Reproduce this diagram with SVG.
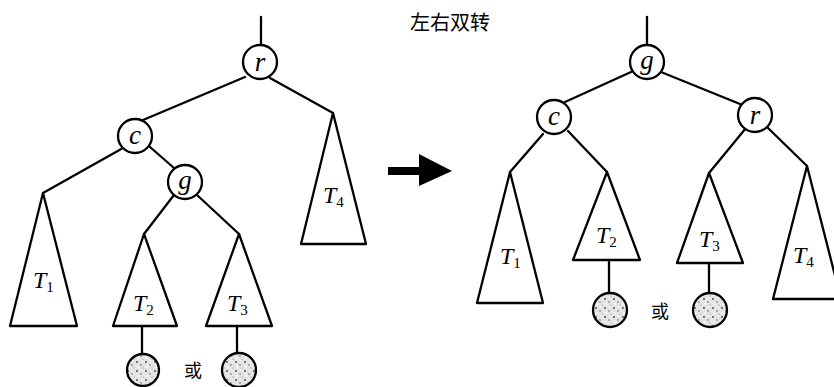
<svg xmlns="http://www.w3.org/2000/svg" width="834" height="387" viewBox="0 0 834 387">
<style>
.ln{stroke:#000;stroke-width:2.3;fill:none;stroke-linecap:round;stroke-linejoin:round}
.tri{stroke:#000;stroke-width:2.3;fill:#fff;stroke-linejoin:round}
.nd{stroke:#000;stroke-width:2.3;fill:#fff}
.lf{stroke:#000;stroke-width:2.3;fill:url(#stip)}
.nl{font-family:"Liberation Serif",serif;font-style:italic;font-size:27px;text-anchor:middle}
.tl{font-family:"Liberation Serif",serif;font-style:italic;font-size:24px}
.sub{font-style:normal;font-size:15px}
.cj{font-family:"Noto Sans CJK SC",sans-serif;font-size:18px}
.ti{font-family:"Noto Sans CJK SC",sans-serif;font-size:20px}
</style>
<defs>
<pattern id="stip" patternUnits="userSpaceOnUse" width="9" height="9">
<rect width="9" height="9" fill="#e4e4e4"/>
<circle cx="2" cy="2" r="0.9" fill="#444"/>
<circle cx="6" cy="5" r="0.8" fill="#666"/>
<circle cx="3" cy="7" r="0.9" fill="#fff"/>
<circle cx="7" cy="1" r="0.8" fill="#fff"/>
<circle cx="8" cy="8" r="0.6" fill="#888"/>
</pattern>
</defs>
<rect width="834" height="387" fill="#fff"/>
<text class="ti" x="410" y="30">左右双转</text>
<g id="connectors">
<line class="ln" x1="261" y1="17" x2="261" y2="45"/>
<line class="ln" x1="245" y1="77" x2="143" y2="120"/>
<line class="ln" x1="270" y1="78" x2="333" y2="113"/>
<line class="ln" x1="123" y1="148" x2="43" y2="193"/>
<line class="ln" x1="150" y1="147" x2="174" y2="168"/>
<line class="ln" x1="174" y1="195" x2="144" y2="234"/>
<line class="ln" x1="197" y1="195" x2="239" y2="234"/>
<line class="ln" x1="142" y1="326" x2="142" y2="354"/>
<line class="ln" x1="237" y1="326" x2="237" y2="353"/>
<line class="ln" x1="647" y1="17" x2="647" y2="45"/>
<line class="ln" x1="631" y1="72" x2="565" y2="102"/>
<line class="ln" x1="661" y1="72" x2="740" y2="104"/>
<line class="ln" x1="543" y1="134" x2="510" y2="172"/>
<line class="ln" x1="568" y1="131" x2="607" y2="172"/>
<line class="ln" x1="746" y1="128" x2="709" y2="173"/>
<line class="ln" x1="767" y1="127" x2="807" y2="166"/>
<line class="ln" x1="609" y1="260" x2="609" y2="293"/>
<line class="ln" x1="709" y1="263" x2="709" y2="293"/>
</g>
<g id="arrow">
<rect x="388" y="167" width="33" height="8" fill="#000"/>
<polygon points="419,154 452,171 419,186" fill="#000"/>
</g>
<g id="L_r"><circle class="nd" cx="260" cy="62" r="17"/><text class="nl" x="260" y="71">r</text></g>
<g id="L_c"><circle class="nd" cx="135" cy="136" r="17"/><text class="nl" x="135" y="144">c</text></g>
<g id="L_g"><circle class="nd" cx="185" cy="182" r="17"/><text class="nl" x="185" y="189">g</text></g>
<g id="L_T1"><polygon class="tri" points="43,193 10,326 77,326"/><text class="tl" x="33" y="288">T<tspan class="sub" dy="4">1</tspan></text></g>
<g id="L_T2"><polygon class="tri" points="144,234 113,326 177,326"/><text class="tl" x="133" y="311">T<tspan class="sub" dy="4">2</tspan></text></g>
<g id="L_T3"><polygon class="tri" points="239,234 206,326 272,326"/><text class="tl" x="227" y="311">T<tspan class="sub" dy="4">3</tspan></text></g>
<g id="L_T4"><polygon class="tri" points="333,113 301,244 366,244"/><text class="tl" x="323" y="203">T<tspan class="sub" dy="4">4</tspan></text></g>
<g id="L_leaf1"><circle class="lf" cx="143" cy="370" r="16"/></g>
<g id="L_leaf2"><circle class="lf" cx="239" cy="370" r="17"/></g>
<text class="cj" x="184" y="377">或</text>
<g id="R_g"><circle class="nd" cx="647" cy="62" r="17"/><text class="nl" x="647" y="69">g</text></g>
<g id="R_c"><circle class="nd" cx="554" cy="117" r="17"/><text class="nl" x="554" y="125">c</text></g>
<g id="R_r"><circle class="nd" cx="755" cy="115" r="17"/><text class="nl" x="755" y="124">r</text></g>
<g id="R_T1"><polygon class="tri" points="510,172 477,303 543,303"/><text class="tl" x="500" y="264">T<tspan class="sub" dy="4">1</tspan></text></g>
<g id="R_T2"><polygon class="tri" points="607,172 573,260 640,260"/><text class="tl" x="596" y="243">T<tspan class="sub" dy="4">2</tspan></text></g>
<g id="R_T3"><polygon class="tri" points="709,173 677,263 743,263"/><text class="tl" x="699" y="247">T<tspan class="sub" dy="4">3</tspan></text></g>
<g id="R_T4"><polygon class="tri" points="807,166 773,299 841,299"/><text class="tl" x="793" y="263">T<tspan class="sub" dy="4">4</tspan></text></g>
<g id="R_leaf1"><circle class="lf" cx="610" cy="310" r="17"/></g>
<g id="R_leaf2"><circle class="lf" cx="710" cy="310" r="17"/></g>
<text class="cj" x="651" y="318">或</text>
</svg>
